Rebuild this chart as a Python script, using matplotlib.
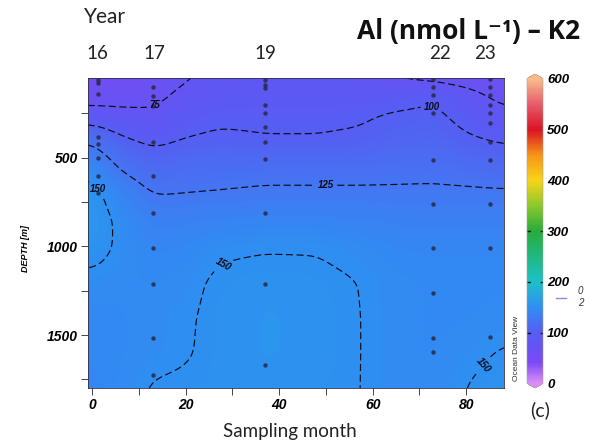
import numpy as np
import matplotlib
matplotlib.use("Agg")
import matplotlib.pyplot as plt
from matplotlib.colors import LinearSegmentedColormap, Normalize
from matplotlib.transforms import blended_transform_factory

grid_months = [0, 6, 13, 20, 27, 37, 48, 57, 65, 73, 80, 88]
grid_depths = [50, 150, 250, 400, 550, 700, 850, 1000, 1200, 1400, 1600, 1800]
# Al (nmol/L), one row per depth, one column per month
al_grid = [
    [52, 56, 60, 73, 80, 82, 82, 80, 74, 68, 64, 58],
    [64, 66, 68, 82, 88, 90, 90, 89, 90, 97, 84, 68],
    [84, 80, 78, 90, 95, 96, 96, 97, 102, 104, 93, 80],
    [122, 104, 95, 101, 104, 101, 101, 103, 108, 110, 103, 98],
    [145, 122, 112, 116, 117, 118, 118, 118, 119, 120, 117, 112],
    [156, 140, 124, 125, 126, 128, 128, 128, 128, 128, 128, 128],
    [158, 147, 136, 137, 139, 140, 140, 139, 137, 136, 136, 136],
    [155, 148, 142, 143, 148, 149, 149, 146, 143, 142, 142, 142],
    [147, 146, 145, 147, 152, 154, 153, 150, 146, 145, 145, 145],
    [144, 145, 147, 148.5, 153, 155, 154, 150.3, 146, 145, 145, 146],
    [143, 145, 147, 149, 153, 155, 154, 150.3, 146, 145, 147, 151],
    [142, 146, 151, 152, 153, 154, 153, 150.3, 146, 146, 150, 155],
]

station_months = [1.3, 13, 37, 73, 85]
station_depths = [
    [60, 80, 140, 380, 420, 500, 600, 700],
    [100, 150, 210, 410, 605, 810, 1010, 1210, 1515, 1725],
    [60, 90, 105, 200, 250, 325, 410, 505, 810, 1210, 1670],
    [55, 100, 145, 250, 510, 760, 1010, 1265, 1515, 1595],
    [55, 100, 145, 200, 250, 305, 410, 510, 760, 1010, 1510],
]

year_labels = ["16", "17", "19", "22", "23"]
year_months = [1, 13.3, 37, 74.3, 84]

contour_levels = [75, 100, 125, 150]
label_spots = [(13.5, 210), (73, 175), (50, 640), (2, 660), (27, 1060), (85, 1700)]

cbar_ticks = [0, 100, 200, 300, 400, 500, 600]

# ODV-like palette
cmap = LinearSegmentedColormap.from_list("odv", [
    (0.0, "#d98ef6"), (40 / 600, "#7c4af4"), (75 / 600, "#6454f4"),
    (100 / 600, "#565ef2"), (125 / 600, "#4476f2"), (150 / 600, "#2e90f2"),
    (200 / 600, "#1ec0c8"), (250 / 600, "#20b880"), (300 / 600, "#28ac3c"),
    (350 / 600, "#8cc82c"), (400 / 600, "#f8d418"), (450 / 600, "#f89418"),
    (500 / 600, "#d81424"), (550 / 600, "#e85a6a"), (1.0, "#f8bc8c"),
])
norm = Normalize(0, 600)

# --- gridding: bilinear upsample + gaussian smoothing ---
fx = np.linspace(-1, 88.5, 260)
fy = np.linspace(50, 1800, 260)
g = np.array(al_grid, dtype=float)
rows = np.array([np.interp(fx, grid_months, r) for r in g])
field = np.array([np.interp(fy, grid_depths, rows[:, j]) for j in range(len(fx))]).T


def smooth(a, sigma, axis):
    k = np.arange(-3 * sigma, 3 * sigma + 1)
    w = np.exp(-0.5 * (k / sigma) ** 2)
    w /= w.sum()
    pad = [(0, 0), (0, 0)]
    pad[axis] = (len(k) // 2, len(k) // 2)
    p = np.pad(a, pad, mode="edge")
    return np.apply_along_axis(lambda v: np.convolve(v, w, mode="valid"), axis, p)


field = smooth(field, 5, 1)
field = smooth(field, 5, 0)

# --- figure ---
fig = plt.figure(figsize=(5.9, 4.45), dpi=100)
ax = fig.add_axes([88 / 590, 1 - 388 / 445, 416 / 590, 310 / 445])

ax.imshow(field, cmap=cmap, norm=norm, origin="lower", aspect="auto",
          extent=[fx[0], fx[-1], fy[0], fy[-1]], interpolation="bilinear")
X, Y = np.meshgrid(fx, fy)
cs = ax.contour(X, Y, field, levels=contour_levels, colors="#0c0c18",
                linewidths=0.85, linestyles=[(0, (6, 3))])
lbls = ax.clabel(cs, fmt="%d", fontsize=7, manual=label_spots, inline=True, inline_spacing=2)
for t in lbls:
    t.set_fontstyle("italic")
    t.set_fontweight("bold")
    t.set_family("Liberation Sans")
    if t.get_text() != "150" or t.get_position()[0] < 10:
        t.set_rotation(0)

for m, ds in zip(station_months, station_depths):
    ax.plot([m] * len(ds), ds, "o", ms=3.2, color="#2a2a44", mec="none", alpha=0.85)

ax.set_xlim(-0.9, 88.1)
ax.set_ylim(1798, 50)
ax.set_xticks([0, 20, 40, 60, 80])
ax.set_xticks([10, 30, 50, 70], minor=True)
ax.set_yticks([500, 1000, 1500])
ax.set_yticks([250, 750, 1250, 1750], minor=True)
ax.tick_params(which="both", direction="out", length=5, width=0.7, color="#444", pad=2)
for lab in ax.get_xticklabels() + ax.get_yticklabels():
    lab.set_family("Liberation Sans")
    lab.set_fontsize(10)
    lab.set_fontweight("bold")
    lab.set_fontstyle("italic")
for s in ax.spines.values():
    s.set_linewidth(0.6)
    s.set_color("#303040")

ax.set_ylabel("DEPTH [m]", fontsize=6.5, fontweight="bold", fontstyle="italic",
              family="Liberation Sans")
ax.yaxis.set_label_coords(-0.14, 0.45)

# year labels on top
trans = blended_transform_factory(ax.transData, ax.transAxes)
for m, lab in zip(year_months, year_labels):
    ax.text(m, 1 + 24 / 310, lab, transform=trans, ha="center", va="center",
            fontsize=13.5, family="Lato", color="#222")
fig.text(84 / 590, 1 - 17 / 445, "Year", ha="left", va="center", fontsize=15,
         family="Lato", color="#222")
fig.text(580 / 590, 1 - 32 / 445, "Al (nmol L\u207b\u00b9) \u2013 K2", ha="right", va="center",
         fontsize=19, fontweight="bold", family=["Open Sans", "DejaVu Sans"], color="#111")
fig.text(290 / 590, 1 - 432 / 445, "Sampling month", ha="center", va="center",
         fontsize=13.5, family="Lato", color="#222")
fig.text(540 / 590, 1 - 410 / 445, "(c)", ha="center", va="center",
         fontsize=14, family="Lato", color="#222")

# colorbar
cax = fig.add_axes([527 / 590, 1 - 388 / 445, 16 / 590, 314 / 445])
sm = plt.cm.ScalarMappable(norm=norm, cmap=cmap)
cb = fig.colorbar(sm, cax=cax, extend="both", extendfrac=0.015, ticks=cbar_ticks)
cb.outline.set_linewidth(0.4)
cb.outline.set_edgecolor("#b0a090")
cax.tick_params(length=0, pad=3)
for lab in cax.get_yticklabels():
    lab.set_family("Liberation Sans")
    lab.set_fontsize(9.5)
    lab.set_fontweight("bold")
    lab.set_fontstyle("italic")
cax.hlines([100, 200, 300], 0, 1, colors="#111", linewidth=1.0,
           linestyles=[(0, (2.5, 7))], transform=blended_transform_factory(cax.transAxes, cax.transData))

fig.text(516 / 590, 1 - 348 / 445, "Ocean Data View", rotation=90, ha="center", va="center",
         fontsize=6, family="Liberation Sans", color="#333")
fig.add_artist(plt.Line2D([556 / 590, 566 / 590], [1 - 298 / 445, 1 - 298 / 445],
                          color="#8890d0", lw=1))
fig.text(578 / 590, 1 - 291 / 445, "0", fontsize=7, fontstyle="italic",
         family="Liberation Sans", color="#333", va="center")
fig.text(578 / 590, 1 - 303 / 445, "2", fontsize=7, fontstyle="italic",
         family="Liberation Sans", color="#333", va="center")

fig.savefig("out.png", dpi=100)
